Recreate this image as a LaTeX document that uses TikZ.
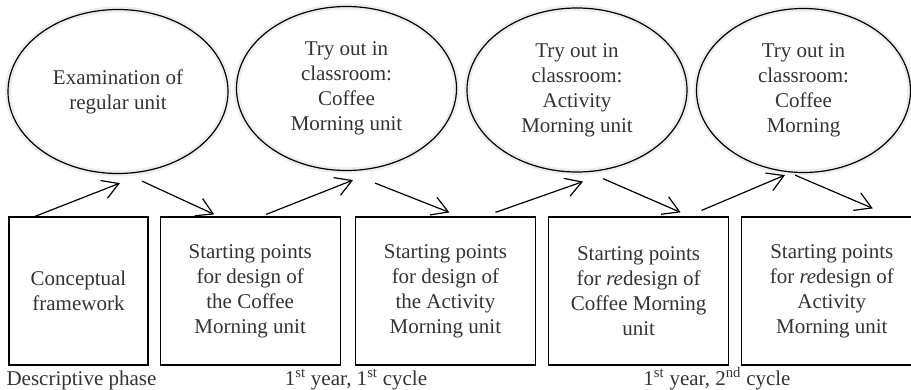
\documentclass[tikz,border=0pt]{standalone}
\usepackage{fontspec}
\setmainfont{Liberation Serif}
\usetikzlibrary{positioning,shapes.geometric,arrows.meta}

\begin{document}
\begin{tikzpicture}[x=1pt,y=-1pt]
  \tikzset{
    every node/.style={font=\fontsize{21}{25}\selectfont, text=black!80},
    phase box/.style={draw, line width=1.2pt, inner sep=0pt, align=center, minimum height=148pt, minimum width=180pt},
    tryout/.style={draw, ellipse, line width=1.2pt, inner sep=0pt, align=center, minimum width=220pt, minimum height=164pt,
      preaction={draw, black, opacity=0.07, line width=6pt}},
    flow/.style={line width=1.2pt, -{Straight Barb[length=16pt, width=19pt, line width=1.2pt]}}
  }
  \useasboundingbox (0,0) rectangle (911,390);

  % Ellipses (top row)
  \node[tryout] (exam) at (118,91.5) {Examination of\\regular unit};
  \node[tryout] (try1) at (346.5,88.5) {Try out in\\classroom:\\Coffee\\Morning unit};
  \node[tryout] (try2) at (577,90) {Try out in\\classroom:\\Activity\\Morning unit};
  \node[tryout, minimum width=214pt] (try3) at (803.5,90.5) {Try out in\\classroom:\\Coffee\\Morning};

  % Boxes (bottom row)
  \node[phase box, minimum width=139pt] (frame) at (78.5,291) {Conceptual\\framework};
  \node[phase box, right=11pt of frame] (start1) {Starting points\\for design of\\the Coffee\\Morning unit};
  \node[phase box, right=14pt of start1] (start2) {Starting points\\for design of\\the Activity\\Morning unit};
  \node[phase box, right=12pt of start2] (start3) {Starting points\\for \textit{re}design of\\Coffee Morning\\unit};
  \node[phase box, right=12pt of start3] (start4) {Starting points\\for \textit{re}design of\\Activity\\Morning unit};

  % Zig-zag arrows
  \draw[flow] ([xshift=-43.5pt]frame.north) -- ([xshift=2pt, yshift=-9pt]exam.south);
  \draw[flow] ([xshift=24pt, yshift=-7pt]exam.south) -- ([xshift=-36pt, yshift=2pt]start1.north);
  \draw[flow] ([xshift=16pt, yshift=2pt]start1.north) -- ([xshift=6.5pt, yshift=-9pt]try1.south);
  \draw[flow] ([xshift=28.5pt, yshift=-12pt]try1.south) -- ([xshift=4pt, yshift=4pt]start2.north);
  \draw[flow] ([xshift=50pt, yshift=4pt]start2.north) -- ([xshift=6pt, yshift=-9pt]try2.south);
  \draw[flow] ([xshift=26pt, yshift=-6pt]try2.south) -- ([xshift=42pt, yshift=4pt]start3.north);
  \draw[flow] ([xshift=63pt, yshift=6pt]start3.north) -- ([xshift=-18.5pt, yshift=-2pt]try3.south);
  \draw[flow] ([xshift=-8.5pt, yshift=-2pt]try3.south) -- ([xshift=41pt, yshift=8pt]start4.north);

  % Phase labels
  \node[anchor=base west] (desc) at (3,385) {Descriptive phase};
  \node[anchor=base] (cycle1) at (356,385) {1\textsuperscript{st} year, 1\textsuperscript{st} cycle};
  \node[anchor=base] (cycle2) at (717,385) {1\textsuperscript{st} year, 2\textsuperscript{nd} cycle};
\end{tikzpicture}
\end{document}
